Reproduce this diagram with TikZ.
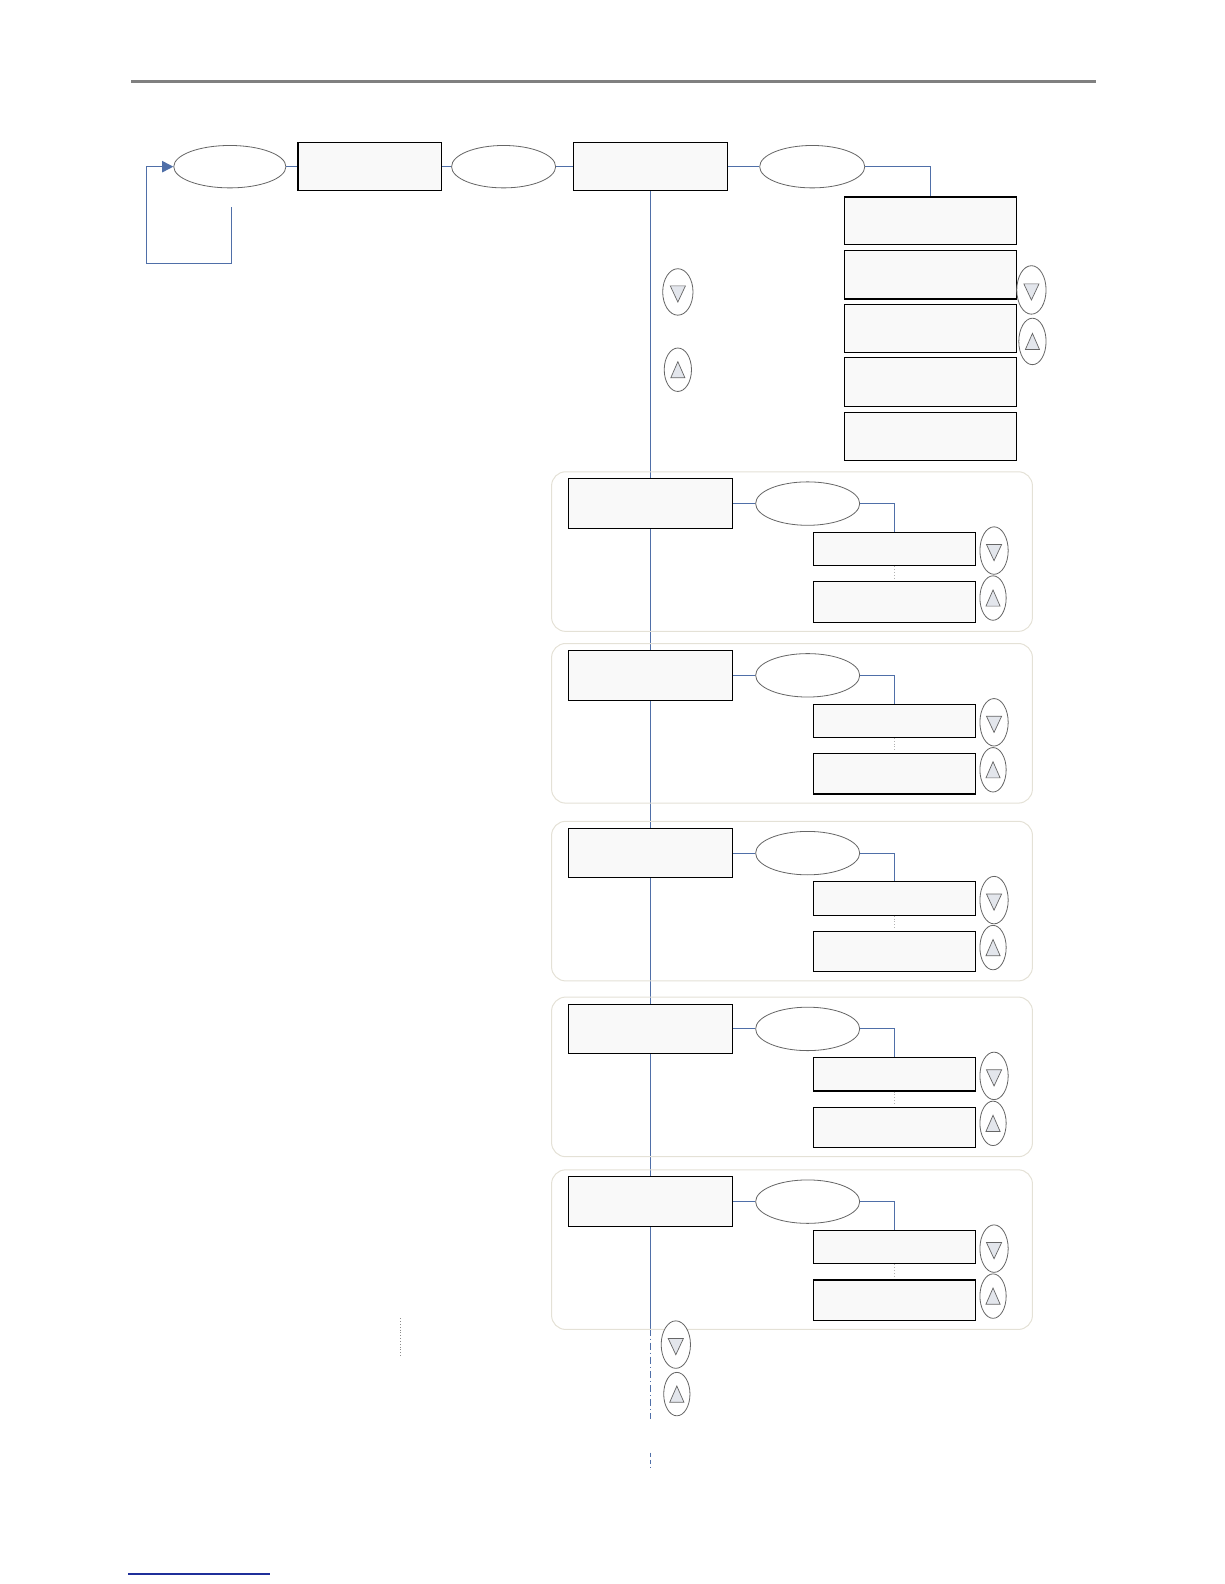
\documentclass[tikz,border=0pt]{standalone}
\usetikzlibrary{shapes.geometric,arrows.meta,calc}
\definecolor{lnblue}{HTML}{4F6FA8}
\definecolor{panelfill}{HTML}{F9F9F9}
\definecolor{grpline}{HTML}{E4E1D6}
\definecolor{trifill}{HTML}{E3E6EC}
\definecolor{footblue}{HTML}{1F2F9A}
\tikzset{
  panel/.style={draw=black, line width=1.1pt, fill=panelfill, rectangle, inner sep=0pt},
  oval/.style={draw=black!60, line width=0.8pt, fill=white, ellipse, inner sep=0pt},
  btn/.style={draw=black!60, line width=0.8pt, fill=white, ellipse, inner sep=0pt},
  conn/.style={draw=lnblue, line width=1pt},
  grpbox/.style={draw=grpline, line width=1pt, rounded corners=14pt},
  tri/.style={draw=black!60, line width=0.7pt, fill=trifill, line join=miter},
}
\newcommand{\downbtn}[4]{% name x y : w h fixed
  \node[btn, minimum width=#3pt, minimum height=#4pt] (#1) at (#2) {};
  \draw[tri] ($(#1.center)+(-7.5,-6)$) -- ($(#1.center)+(7.5,-6)$) -- ($(#1.center)+(0,10)$) -- cycle;
}
\newcommand{\upbtn}[4]{%
  \node[btn, minimum width=#3pt, minimum height=#4pt] (#1) at (#2) {};
  \draw[tri] ($(#1.center)+(-7,8)$) -- ($(#1.center)+(7,8)$) -- ($(#1.center)+(0,-8)$) -- cycle;
}
\newcommand{\grp}[2]{% name top
  \draw[grpbox] (546,#2) rectangle (1022,#2+158);
  \node[panel, minimum width=163pt, minimum height=49pt] (H#1) at (644,#2+31.5) {};
  \node[oval, minimum width=103pt, minimum height=43pt] (E#1) at (799.5,#2+31.5) {};
  \node[panel, minimum width=161pt, minimum height=33pt] (I#1) at (885.5,#2+76.5) {};
  \node[panel, minimum width=161pt, minimum height=40pt] (J#1) at (885.5,#2+129) {};
  \draw[conn] (H#1.east) -- (E#1.west);
  \draw[conn] (E#1.east) -| (I#1.north);
  \draw[black!30, line width=0.8pt, dotted] (I#1.south) -- ++(0,12);
  \downbtn{BD#1}{984,#2+78}{28}{47}
  \upbtn{BU#1}{983,#2+125}{26}{44}
}
\begin{document}
\begin{tikzpicture}[x=1pt,y=-1pt]
\useasboundingbox (0,0) rectangle (1212,1568);
% header and footer rules
\coordinate (hl) at (130,81);
\coordinate (hr) at (1085,81);
\draw[black!50, line width=3pt] (hl) -- (hr);
\coordinate (fl) at (127,1558);
\coordinate (fr) at (267,1558);
\draw[footblue, line width=1.6pt] (fl) -- (fr);

% main line (drawn first, behind the boxes)
\coordinate (m5) at (644,1315);
\coordinate (m6) at (644,1405);
\coordinate (m7) at (644,1438);
\coordinate (m8) at (644,1453);
\draw[conn] (644,189) -- (m5);
\draw[conn, dash pattern=on 7pt off 3pt on 1pt off 3pt] (m5) -- (m6);
\draw[conn, dash pattern=on 4pt off 3pt] (m7) -- (m8);

% top row
\node[oval, minimum width=111pt, minimum height=42pt] (A) at (227.5,165) {};
\node[panel, minimum width=142pt, minimum height=48pt] (B) at (366,165) {};
\node[oval, minimum width=103pt, minimum height=42pt] (C) at (498.5,165) {};
\node[panel, minimum width=152pt, minimum height=48pt] (D) at (644,165) {};
\node[oval, minimum width=104pt, minimum height=42pt] (E) at (804,165) {};
\draw[conn] (A.east) -- (B.west);
\draw[conn] (B.east) -- (C.west);
\draw[conn] (C.east) -- (D.west);
\draw[conn] (D.east) -- (E.west);

% right column
\node[panel, minimum width=170pt, minimum height=47pt] (F1) at (921,218.5) {};
\node[panel, minimum width=170pt, minimum height=48pt] (F2) at (921,272) {};
\node[panel, minimum width=170pt, minimum height=48pt] (F3) at (921,325) {};
\node[panel, minimum width=170pt, minimum height=48pt] (F4) at (921,378) {};
\node[panel, minimum width=170pt, minimum height=48pt] (F5) at (921,432) {};
\draw[conn] (E.east) -| (F1.north);
\downbtn{RD}{1021,287}{29}{48}
\upbtn{RU}{1022,338}{27}{46}

% loop arrow
\coordinate (lp0) at (229,205);
\coordinate (lp1) at (229,261);
\coordinate (lp2) at (145,261);
\draw[lnblue, line width=1.6pt, -{Triangle[length=11pt,width=11pt]}] (lp0) -- (lp1) -- (lp2) |- (A.west);

% buttons on main line
\downbtn{MD}{671,289}{30}{46}
\upbtn{MU}{671,366}{27}{43}

% groups
\grp{1}{467}
\grp{2}{637}
\grp{3}{813}
\grp{4}{987}
\grp{5}{1158}

% bottom buttons
\downbtn{MD2}{669,1331}{29}{47}
\upbtn{MU2}{670,1380}{26}{43}

% small dotted mark
\coordinate (d1) at (396,1305);
\coordinate (d2) at (396,1343);
\draw[black!45, line width=0.8pt, dotted] (d1) -- (d2);
\end{tikzpicture}
\end{document}
